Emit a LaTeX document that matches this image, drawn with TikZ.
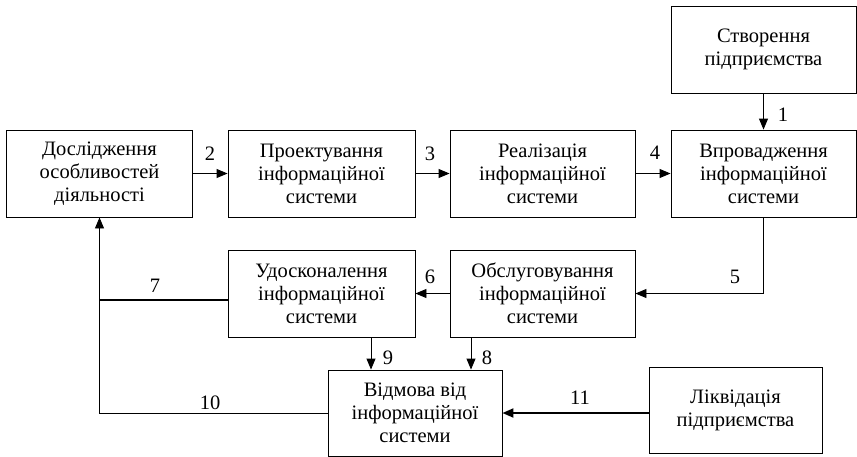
\documentclass[tikz,border=0pt]{standalone}
\usepackage{fontspec}
\setmainfont{Liberation Serif}
\usetikzlibrary{arrows.meta}
\begin{document}
\begin{tikzpicture}[x=1pt,y=-1pt,
  font=\fontsize{20.5pt}{23pt}\selectfont,
  box/.style={draw,line width=0.9pt,minimum width=185pt,minimum height=87pt,inner sep=0pt,align=center},
  arr/.style={line width=0.9pt,-{Triangle[length=11pt,width=9pt]}},
  thickln/.style={line width=2pt},
  lab/.style={inner sep=0pt}]
\useasboundingbox (0,0) rectangle (857,456);
\node[box] (b0) at (763.5,49.5) {Створення\\підприємства};
\node[box,minimum width=186pt] (b1) at (99.5,173.5) {Дослідження\\особливостей\\діяльності};
\node[box,minimum width=187pt] (b2) at (321.5,173.5) {Проектування\\інформаційної\\системи};
\node[box] (b3) at (542.5,173.5) {Реалізація\\інформаційної\\системи};
\node[box] (b4) at (763.5,173.5) {Впровадження\\інформаційної\\системи};
\node[box] (b5) at (542.5,293.5) {Обслуговування\\інформаційної\\системи};
\node[box,minimum width=187pt] (b6) at (321.5,293.5) {Удосконалення\\інформаційної\\системи};
\node[box,minimum width=174pt,minimum height=86pt] (b7) at (415,413) {Відмова від\\інформаційної\\системи};
\node[box,minimum width=173pt,minimum height=86pt] (b8) at (735.5,410) {Ліквідація\\підприємства};
\draw[arr] (b0.south) -- (b4.north);
\draw[arr] (b1.east) -- (b2.west);
\draw[arr] (b2.east) -- (b3.west);
\draw[arr] (b3.east) -- (b4.west);
\draw[arr] (b4.south) |- (b5.east);
\draw[arr] (b5.west) -- (b6.west -| b6.east);
\draw[arr] (b7.west) -| (b1.south);
\coordinate (s7) at ([yshift=-6.5pt]b6.west);
\coordinate (j7) at (b1.south |- s7);
\draw[thickln] (s7) -- (j7);
\draw[arr] ([xshift=49.5pt]b6.south) -- ([xshift=49.5pt]b6.south |- b7.north);
\draw[arr] ([xshift=-71.5pt]b5.south) -- ([xshift=-71.5pt]b5.south |- b7.north);
\draw[thickln,-{Triangle[length=11pt,width=9pt]}] (b8.west |- b7.east) -- (b7.east);
\node[lab] (l1) at (783,115) {1};
\node[lab] (l2) at (210,154) {2};
\node[lab] (l3) at (430,154) {3};
\node[lab] (l4) at (655,153) {4};
\node[lab] (l5) at (735,277) {5};
\node[lab] (l6) at (430,277) {6};
\node[lab] (l7) at (155,286) {7};
\node[lab] (l8) at (487,358) {8};
\node[lab] (l9) at (388,358) {9};
\node[lab] (l10) at (210,403) {10};
\node[lab] (l11) at (580,398) {11};
\end{tikzpicture}
\end{document}
